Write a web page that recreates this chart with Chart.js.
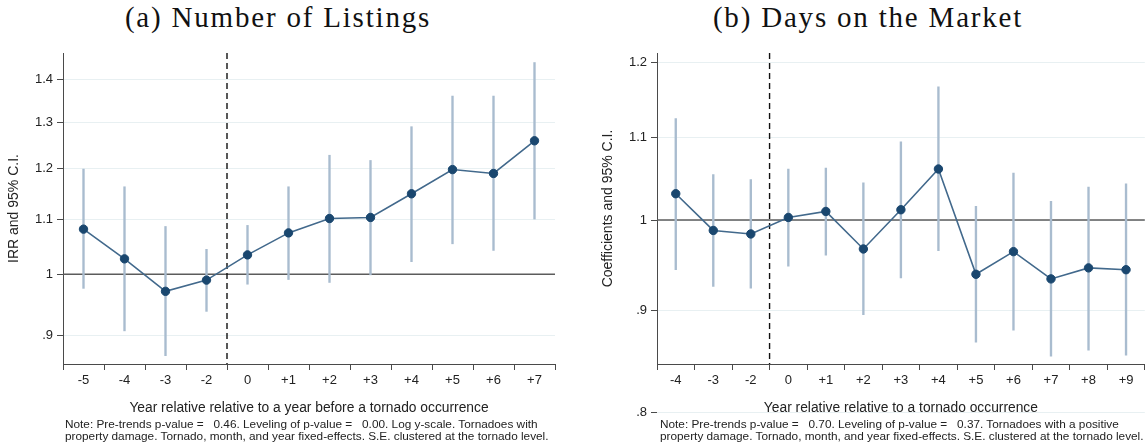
<!DOCTYPE html>
<html>
<head>
<meta charset="utf-8">
<script src="https://cdn.jsdelivr.net/npm/chart.js@4/dist/chart.umd.min.js"></script>
<style>
  html, body { margin: 0; padding: 0; background: #fff; width: 1148px; height: 446px; overflow: hidden; }
  .panel { position: absolute; top: 0; height: 446px; }
  .title { position: absolute; top: 1px; font-family: "Liberation Serif", serif; font-size: 29px; letter-spacing: 1.8px; color: #111; white-space: nowrap; transform: translateX(-50%); }
  .note { position: absolute; top: 419px; font-family: "Liberation Sans", Arial, sans-serif; font-size: 11.8px; line-height: 11.5px; color: #222; white-space: pre; }
</style>
</head>
<body>
<div class="title" style="left:278px">(a) Number of Listings</div>
<div class="title" style="left:868px">(b) Days on the Market</div>
<div class="panel" style="left:0; width:575px"><canvas id="listings" width="575" height="446"></canvas></div>
<div class="panel" style="left:594px; width:556px"><canvas id="days" width="556" height="446"></canvas></div>
<div class="note" style="left:65px">Note: Pre-trends p-value =   0.46. Leveling of p-value =   0.00. Log y-scale. Tornadoes with
property damage. Tornado, month, and year fixed-effects. S.E. clustered at the tornado level.</div>
<div class="note" style="left:660px">Note: Pre-trends p-value =   0.70. Leveling of p-value =   0.37. Tornadoes with a positive
property damage. Tornado, month, and year fixed-effects. S.E. clustered at the tornado level.</div>
<script>
// Panel (a): number of listings, incidence-rate ratios with 95% CI
const listYears = ['-5', '-4', '-3', '-2', '0', '+1', '+2', '+3', '+4', '+5', '+6', '+7'];
const listIRR   = [1.081, 1.027, 0.971, 0.990, 1.034, 1.074, 1.101, 1.103, 1.149, 1.198, 1.190, 1.259];
const listLow   = [0.976, 0.907, 0.869, 0.938, 0.983, 0.991, 0.986, 0.999, 1.022, 1.054, 1.042, 1.100];
const listHigh  = [1.199, 1.163, 1.086, 1.044, 1.088, 1.163, 1.228, 1.217, 1.290, 1.360, 1.360, 1.441];
const listTicks = [0.9, 1, 1.1, 1.2, 1.3, 1.4];
const listTickLabels = ['.9', '1', '1.1', '1.2', '1.3', '1.4'];

// Panel (b): days on the market, coefficients with 95% CI
const dayYears = ['-4', '-3', '-2', '0', '+1', '+2', '+3', '+4', '+5', '+6', '+7', '+8', '+9'];
const dayCoef  = [1.031, 0.988, 0.984, 1.003, 1.010, 0.967, 1.012, 1.061, 0.939, 0.964, 0.934, 0.946, 0.944];
const dayLow   = [0.944, 0.926, 0.924, 0.948, 0.960, 0.896, 0.935, 0.965, 0.868, 0.880, 0.854, 0.860, 0.855];
const dayHigh  = [1.125, 1.054, 1.048, 1.061, 1.062, 1.044, 1.095, 1.167, 1.016, 1.056, 1.022, 1.039, 1.043];
const dayTicks = [0.9, 1, 1.1, 1.2];
const dayTickLabels = ['.9', '1', '1.1', '1.2'];
const dayExtraTicks = [0.8];
const dayExtraLabels = ['.8'];

const SANS = '"Liberation Sans", Arial, sans-serif';
const INK = '#222';
const AXIS = '#4a4a4a';
const GRID = '#e8f0f2';

// Reference line at 1 and dashed line marking the event year
const refLines = {
  id: 'refLines',
  beforeDatasetsDraw(chart, args, opts) {
    const { ctx, chartArea: a, scales: { x, y } } = chart;
    ctx.save();
    const y1 = y.getPixelForValue(1);
    ctx.strokeStyle = '#5c5c5c';
    ctx.lineWidth = 1.6;
    ctx.beginPath(); ctx.moveTo(a.left, y1); ctx.lineTo(a.right, y1); ctx.stroke();
    const xd = (x.getPixelForValue(opts.after) + x.getPixelForValue(opts.after + 1)) / 2;
    ctx.setLineDash([6, 4]);
    ctx.strokeStyle = '#111';
    ctx.lineWidth = 1.4;
    ctx.beginPath(); ctx.moveTo(xd, a.top); ctx.lineTo(xd, a.bottom); ctx.stroke();
    ctx.restore();
  }
};

// Labelled y values that sit beyond the plotted range
const extraTicks = {
  id: 'extraTicks',
  afterDraw(chart, args, opts) {
    if (!opts.values) return;
    const { ctx, chartArea: a, scales: { y } } = chart;
    ctx.save();
    opts.values.forEach((v, i) => {
      const py = Math.round(y.getPixelForValue(v)) + 0.5;
      ctx.strokeStyle = GRID; ctx.lineWidth = 1;
      ctx.beginPath(); ctx.moveTo(a.left, py); ctx.lineTo(a.right, py); ctx.stroke();
      ctx.strokeStyle = AXIS;
      ctx.beginPath(); ctx.moveTo(a.left - 6, py); ctx.lineTo(a.left, py); ctx.stroke();
      ctx.fillStyle = INK;
      ctx.font = '13px ' + SANS;
      ctx.textAlign = 'right'; ctx.textBaseline = 'middle';
      ctx.fillText(opts.labels[i], a.left - 10, py);
    });
    ctx.restore();
  }
};

function eventChart(id, cfg) {
  return new Chart(document.getElementById(id), {
    data: {
      labels: cfg.years,
      datasets: [
        {
          type: 'line', order: 0, data: cfg.est,
          borderColor: '#42698c', borderWidth: 1.6,
          pointRadius: 4.2, pointBorderWidth: 1,
          pointBackgroundColor: '#1a476f', pointBorderColor: '#1a476f'
        },
        {
          type: 'bar', order: 1,
          data: cfg.low.map((l, i) => [l, cfg.high[i]]),
          backgroundColor: '#a9bccf', borderWidth: 0, barThickness: 1.7
        }
      ]
    },
    options: {
      responsive: false, animation: false,
      layout: { padding: { left: 0, top: 53, right: cfg.padRight, bottom: 0 } },
      plugins: {
        legend: { display: false }, tooltip: { enabled: false },
        refLines: { after: cfg.eventAfter },
        extraTicks: { values: cfg.extraValues, labels: cfg.extraLabels }
      },
      scales: {
        x: {
          type: 'category', offset: true,
          grid: { drawOnChartArea: false, tickLength: 6, tickColor: AXIS },
          border: { color: AXIS, width: 1 },
          ticks: { font: { family: SANS, size: 13 }, color: INK, padding: 3, maxRotation: 0, autoSkip: false },
          title: { display: true, text: cfg.xTitle, font: { family: SANS, size: 13.8 }, color: INK, padding: { top: 0, bottom: 30 } },
          afterFit(s) { s.height = 82; }
        },
        y: {
          type: 'logarithmic', min: cfg.yMin, max: cfg.yMax,
          grid: { color: GRID, tickLength: 6, tickColor: AXIS },
          border: { color: AXIS, width: 1 },
          ticks: {
            font: { family: SANS, size: 13 }, color: INK, padding: 4,
            callback: (v, i) => cfg.tickLabels[i]
          },
          afterBuildTicks(s) { s.ticks = cfg.ticks.map(v => ({ value: v })); },
          title: { display: true, text: cfg.yTitle, font: { family: SANS, size: 14 }, color: INK, padding: { top: 6, bottom: 0 } },
          afterFit(s) { s.width = 63; }
        }
      }
    },
    plugins: [refLines, extraTicks]
  });
}

eventChart('listings', {
  years: listYears, est: listIRR, low: listLow, high: listHigh,
  ticks: listTicks, tickLabels: listTickLabels,
  yMin: 0.8566, yMax: 1.4649, padRight: 20, eventAfter: 3,
  xTitle: 'Year relative relative to a year before a tornado occurrence',
  yTitle: 'IRR and 95% C.I.'
});

eventChart('days', {
  years: dayYears, est: dayCoef, low: dayLow, high: dayHigh,
  ticks: dayTicks, tickLabels: dayTickLabels,
  extraValues: dayExtraTicks, extraLabels: dayExtraLabels,
  yMin: 0.8462, yMax: 1.2138, padRight: 1, eventAfter: 2,
  xTitle: 'Year relative relative to a tornado occurrence',
  yTitle: 'Coefficients and 95% C.I.'
});
</script>
</body>
</html>
